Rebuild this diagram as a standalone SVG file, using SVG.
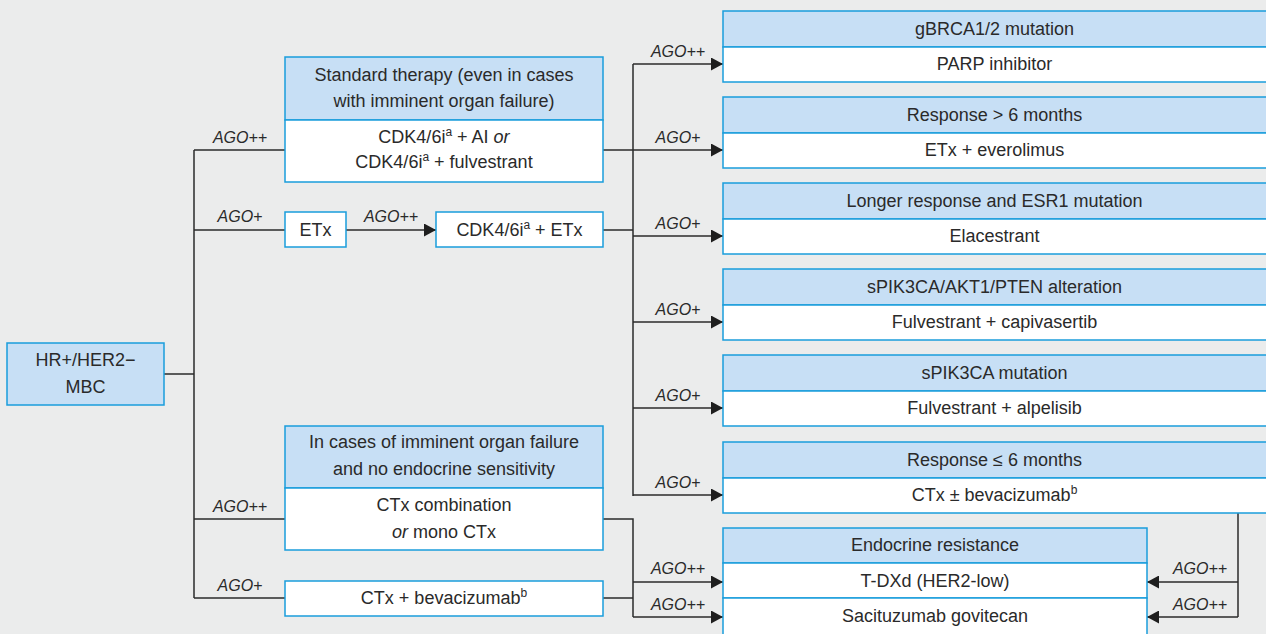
<svg xmlns="http://www.w3.org/2000/svg" width="1266" height="634" viewBox="0 0 1266 634">
<style>
.hd{fill:#c7dff5;stroke:#1a9ddb;stroke-width:1.5}
.bd{fill:#ffffff;stroke:#1a9ddb;stroke-width:1.5}
.t{font-family:"Liberation Sans",Arial,sans-serif;font-size:18px;fill:#2a2a2a;text-anchor:middle}
.l{font-family:"Liberation Sans",Arial,sans-serif;font-size:16px;font-style:italic;fill:#2a2a2a;text-anchor:middle}
.sup{font-size:12px}
.i{font-style:italic}
.c{stroke:#2b2b2b;stroke-width:1.5;fill:none}
.a{marker-end:url(#arr)}
</style>
<defs>
<marker id="arr" markerUnits="userSpaceOnUse" markerWidth="12" markerHeight="13" refX="12" refY="6.5" orient="auto">
<path d="M0,0 L12,6.5 L0,13 z" fill="#1e1e1e"/>
</marker>
</defs>
<rect x="0" y="0" width="1266" height="634" fill="#ebecec"/>

<g id="connectors">
<path class="c" d="M164,374 H194 M194,150 V598 M194,150 H285 M194,230 H285 M194,519 H285 M194,598 H285"/>
<path class="c a" d="M346,230 H436"/>
<path class="c" d="M633,64 V496 M603,230 H633"/>
<path class="c a" d="M603,150 H723"/>
<path class="c a" d="M633,64 H723"/>
<path class="c a" d="M633,236 H723"/>
<path class="c a" d="M633,322 H723"/>
<path class="c a" d="M633,408 H723"/>
<path class="c a" d="M633,495 H723"/>
<path class="c" d="M603,519 H633 V617 M603,598 H633"/>
<path class="c a" d="M633,582 H723"/>
<path class="c a" d="M633,617 H723"/>
<path class="c" d="M1238,513 V617"/>
<path class="c a" d="M1238,582 H1147"/>
<path class="c a" d="M1238,617 H1147"/>
<text class="l" x="240" y="143">AGO++</text>
<text class="l" x="240" y="222">AGO+</text>
<text class="l" x="391" y="222">AGO++</text>
<text class="l" x="240" y="512">AGO++</text>
<text class="l" x="240" y="591">AGO+</text>
<text class="l" x="678" y="57">AGO++</text>
<text class="l" x="678" y="143">AGO+</text>
<text class="l" x="678" y="229">AGO+</text>
<text class="l" x="678" y="315">AGO+</text>
<text class="l" x="678" y="401">AGO+</text>
<text class="l" x="678" y="488">AGO+</text>
<text class="l" x="678" y="574">AGO++</text>
<text class="l" x="678" y="610">AGO++</text>
<text class="l" x="1200" y="574">AGO++</text>
<text class="l" x="1200" y="610">AGO++</text>
</g>

<g id="n-mbc">
<rect class="hd" x="7" y="343" width="157" height="62"/>
<text class="t" x="85.5" y="366">HR+/HER2−</text>
<text class="t" x="85.5" y="393">MBC</text>
</g>

<g id="n-standard">
<rect class="hd" x="285" y="57" width="318" height="63"/>
<rect class="bd" x="285" y="120" width="318" height="62"/>
<text class="t" x="444" y="81">Standard therapy (even in cases</text>
<text class="t" x="444" y="107">with imminent organ failure)</text>
<text class="t" x="444" y="143">CDK4/6i<tspan class="sup" dy="-7">a</tspan><tspan dy="7"> + AI </tspan><tspan class="i">or</tspan></text>
<text class="t" x="444" y="168">CDK4/6i<tspan class="sup" dy="-7">a</tspan><tspan dy="7"> + fulvestrant</tspan></text>
</g>

<g id="n-etx">
<rect class="bd" x="285" y="212" width="61" height="35"/>
<text class="t" x="315.5" y="236">ETx</text>
</g>

<g id="n-cdketx">
<rect class="bd" x="436" y="212" width="167" height="35"/>
<text class="t" x="519.5" y="236">CDK4/6i<tspan class="sup" dy="-7">a</tspan><tspan dy="7"> + ETx</tspan></text>
</g>

<g id="n-ctxcomb">
<rect class="hd" x="285" y="426" width="318" height="62"/>
<rect class="bd" x="285" y="488" width="318" height="62"/>
<text class="t" x="444" y="448">In cases of imminent organ failure</text>
<text class="t" x="444" y="475">and no endocrine sensitivity</text>
<text class="t" x="444" y="511">CTx combination</text>
<text class="t" x="444" y="538"><tspan class="i">or</tspan> mono CTx</text>
</g>

<g id="n-ctxbev">
<rect class="bd" x="285" y="581" width="318" height="35"/>
<text class="t" x="444" y="604">CTx + bevacizumab<tspan class="sup" dy="-7">b</tspan></text>
</g>

<g id="n-gbrca">
<rect class="hd" x="723" y="11" width="545" height="36"/>
<rect class="bd" x="723" y="47" width="545" height="35"/>
<text class="t" x="994.5" y="35">gBRCA1/2 mutation</text>
<text class="t" x="994.5" y="70">PARP inhibitor</text>
</g>

<g id="n-resp6">
<rect class="hd" x="723" y="97" width="545" height="36"/>
<rect class="bd" x="723" y="133" width="545" height="35"/>
<text class="t" x="994.5" y="121">Response &gt; 6 months</text>
<text class="t" x="994.5" y="156">ETx + everolimus</text>
</g>

<g id="n-esr1">
<rect class="hd" x="723" y="183" width="545" height="36"/>
<rect class="bd" x="723" y="219" width="545" height="35"/>
<text class="t" x="994.5" y="207">Longer response and ESR1 mutation</text>
<text class="t" x="994.5" y="242">Elacestrant</text>
</g>

<g id="n-pik3ca-akt">
<rect class="hd" x="723" y="269" width="545" height="36"/>
<rect class="bd" x="723" y="305" width="545" height="35"/>
<text class="t" x="994.5" y="293">sPIK3CA/AKT1/PTEN alteration</text>
<text class="t" x="994.5" y="328">Fulvestrant + capivasertib</text>
</g>

<g id="n-pik3ca">
<rect class="hd" x="723" y="355" width="545" height="36"/>
<rect class="bd" x="723" y="391" width="545" height="35"/>
<text class="t" x="994.5" y="379">sPIK3CA mutation</text>
<text class="t" x="994.5" y="414">Fulvestrant + alpelisib</text>
</g>

<g id="n-resp-le6">
<rect class="hd" x="723" y="442" width="545" height="36"/>
<rect class="bd" x="723" y="478" width="545" height="35"/>
<text class="t" x="994.5" y="466">Response ≤ 6 months</text>
<text class="t" x="994.5" y="501">CTx ± bevacizumab<tspan class="sup" dy="-7">b</tspan></text>
</g>

<g id="n-endo">
<rect class="hd" x="723" y="528" width="424" height="35"/>
<rect class="bd" x="723" y="563" width="424" height="35"/>
<rect class="bd" x="723" y="598" width="424" height="42"/>
<text class="t" x="935" y="551">Endocrine resistance</text>
<text class="t" x="935" y="587">T-DXd (HER2-low)</text>
<text class="t" x="935" y="622">Sacituzumab govitecan</text>
</g>
</svg>
